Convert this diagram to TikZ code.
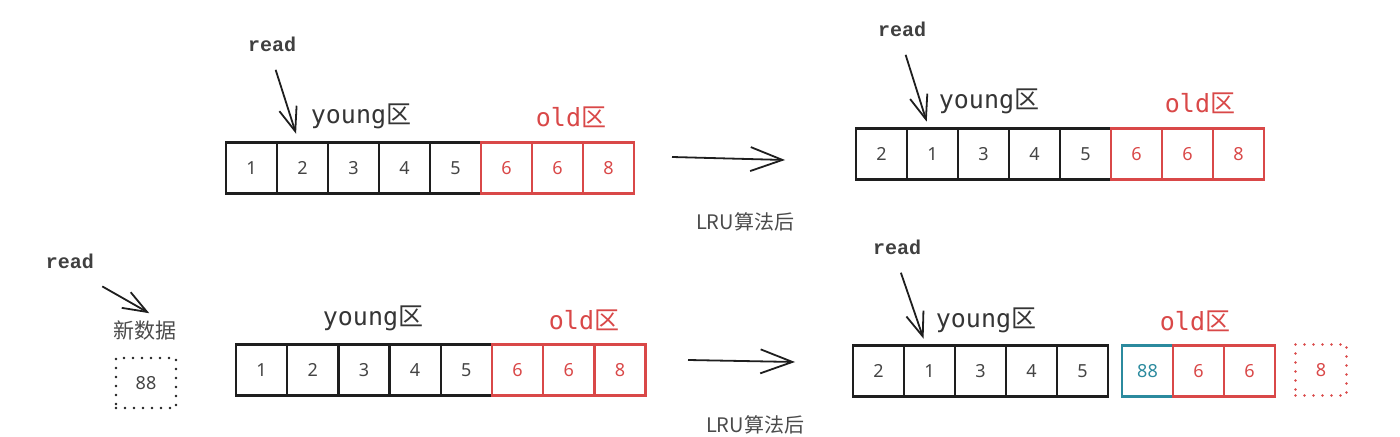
\documentclass[tikz,border=0pt]{standalone}
\usepackage{fontspec}
\setmainfont{Noto Sans}
\newfontfamily\cjk{Noto Sans CJK SC}
\newfontfamily\readfont{Liberation Mono}
\newfontfamily\code{DejaVu Sans Mono}
\usetikzlibrary{arrows.meta}
\definecolor{ink}{HTML}{1E1E1E}
\definecolor{oldred}{HTML}{D94848}
\definecolor{newteal}{HTML}{2B8A9E}
\definecolor{numgray}{HTML}{444444}
\newcommand{\zone}[1]{{\code #1}{\cjk 区}}
\tikzset{
  cell/.style={draw=ink,line width=1.1pt,minimum size=25.5pt,inner sep=0pt,
    font=\fontsize{9}{9}\selectfont,text=numgray},
  oldcell/.style={cell,draw=oldred,text=oldred},
  newcell/.style={cell,draw=newteal,text=newteal},
  dotcell/.style={cell,line width=1.4pt,line cap=round,dash pattern=on 0pt off 4.5pt},
  readlbl/.style={font=\readfont\bfseries\fontsize{10}{10}\selectfont,text=ink!85},
  young/.style={font=\fontsize{12.5}{12.5}\selectfont,text=ink!90},
  old/.style={young,text=oldred},
  readarrow/.style={-{Straight Barb[length=12pt,width=9pt]},line width=0.9pt,draw=ink},
  lru/.style={-{Straight Barb[length=16pt,width=12pt]},line width=0.9pt,draw=ink},
  note/.style={font=\cjk\fontsize{10}{10}\selectfont,text=ink!80}
}
\begin{document}
\begin{tikzpicture}[x=0.5pt,y=-0.5pt]
\useasboundingbox (0,0) rectangle (1400,437);
% top row, before
\foreach \v [count=\i] in {1,2,3,4,5}
  \node[cell] (a\i) at ({251.5+51*(\i-1)},168) {\v};
\foreach \v [count=\i from 6] in {6,6,8}
  \node[oldcell] (a\i) at ({251.5+51*(\i-1)},168) {\v};
\node[young] (ya) at (361,116) {\zone{young}};
\node[old] (oa) at (571,117) {\zone{old}};
\node[readlbl] (ra) at (272,44) {read};
\draw[readarrow,shorten <=6pt,shorten >=4pt] (ra.south) -- ([xshift=-2pt]a2.north);
% top row, after
\foreach \v [count=\i] in {2,1,3,4,5}
  \node[cell] (b\i) at ({881.5+51*(\i-1)},154) {\v};
\foreach \v [count=\i from 6] in {6,6,8}
  \node[oldcell] (b\i) at ({881.5+51*(\i-1)},154) {\v};
\node[young] (yb) at (989,101) {\zone{young}};
\node[old] (ob) at (1200,103) {\zone{old}};
\node[readlbl] (rb) at (902,29) {read};
\draw[readarrow,shorten <=6pt,shorten >=3pt] (rb.south) -- ([xshift=-2pt]b2.north);
\coordinate (s1) at (672,157);
\coordinate (e1) at (785,160);
\draw[lru] (s1) -- (e1);
\node[note] (n1) at (745,222) {LRU算法后};
% new data
\node[readlbl] (rn) at (70,261) {read};
\node[note,font=\cjk\fontsize{10.5}{10.5}\selectfont] (nd) at (145,331) {新数据};
\draw[readarrow,shorten <=3pt,shorten >=1pt] ([xshift=-2pt,yshift=-4pt]rn.south east) -- ([xshift=3pt]nd.north);
\node[dotcell,minimum width=30pt,minimum height=25pt] (d88) at (146,383) {88};
% bottom row, before
\foreach \v [count=\i] in {1,2,3,4,5}
  \node[cell] (c\i) at ({261.5+51.2*(\i-1)},370) {\v};
\foreach \v [count=\i from 6] in {6,6,8}
  \node[oldcell] (c\i) at ({261.5+51.2*(\i-1)},370) {\v};
\node[young] (yc) at (373,318) {\zone{young}};
\node[old] (oc) at (584,320) {\zone{old}};
\coordinate (s2) at (688,360);
\coordinate (e2) at (795,362);
\draw[lru] (s2) -- (e2);
\node[note] (n2) at (755,425) {LRU算法后};
% bottom row, after
\foreach \v [count=\i] in {2,1,3,4,5}
  \node[cell] (d\i) at ({878.5+51*(\i-1)},371) {\v};
\node[newcell] (d6) at (1147.5,371) {88};
\node[oldcell] (d7) at (1198.5,371) {6};
\node[oldcell] (d8) at (1249.5,371) {6};
\node[dotcell,draw=oldred,text=oldred] (d9) at (1321,370) {8};
\node[young] (yd) at (986,320) {\zone{young}};
\node[old] (od) at (1195,321) {\zone{old}};
\node[readlbl] (rd) at (897,247) {read};
\draw[readarrow,shorten <=6pt,shorten >=3pt] (rd.south) -- ([xshift=-2pt]d2.north);
\end{tikzpicture}
\end{document}
